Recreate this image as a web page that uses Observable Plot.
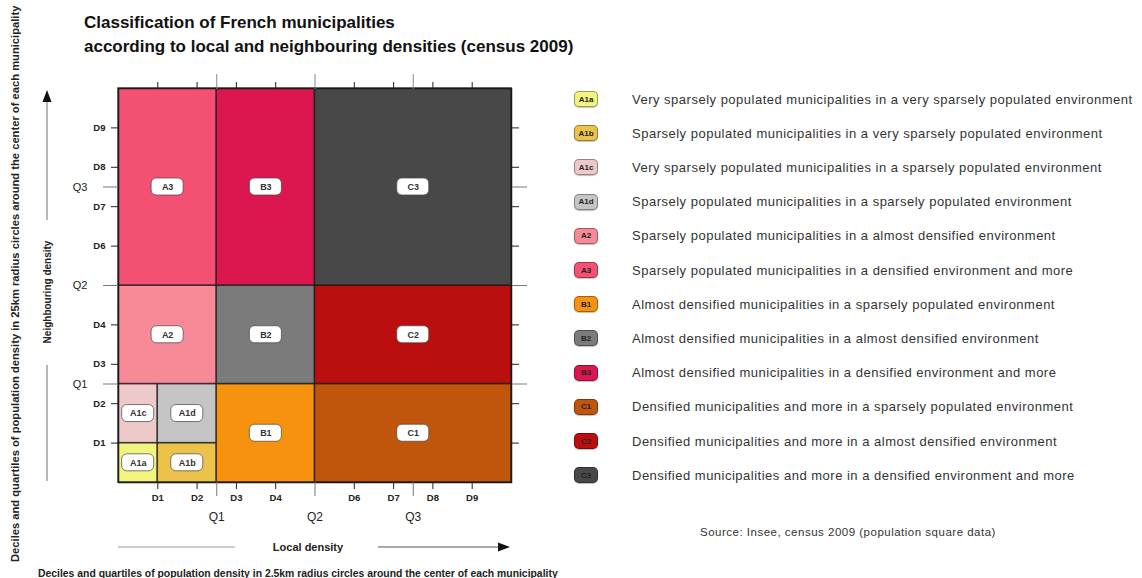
<!DOCTYPE html>
<html>
<head>
<meta charset="utf-8">
<script src="https://cdn.jsdelivr.net/npm/d3@7"></script>
<script src="https://cdn.jsdelivr.net/npm/@observablehq/plot@0.6"></script>
<style>
  html, body { margin: 0; padding: 0; background: #fff; }
  #root { position: relative; width: 1142px; height: 578px; overflow: hidden; font-family: "Liberation Sans", Arial, sans-serif; color: #222; }
  .abs { position: absolute; white-space: nowrap; }
  #title { left: 84px; top: 11px; font-size: 17px; font-weight: bold; line-height: 24px; color: #111; }
  .legrow { position: absolute; left: 574px; height: 18px; display: flex; align-items: center; }
  .sw { width: 24px; height: 16px; border-radius: 5px; box-sizing: border-box; border: 1px solid rgba(0,0,0,0.35); font-size: 8px; font-weight: bold; display: flex; align-items: center; justify-content: center; color: #222; box-shadow: 0 1px 1px rgba(0,0,0,0.25); }
  .desc { margin-left: 34px; font-size: 13px; letter-spacing: 0.5px; color: #333; }
  #source { left: 700px; top: 526px; font-size: 11.5px; letter-spacing: 0.5px; color: #333; }
  #bottomnote { left: 38px; top: 568px; font-size: 10.4px; font-weight: bold; color: #222; }
  #leftnote { left: 15px; top: 562px; font-size: 11.2px; font-weight: bold; color: #222; transform-origin: 0 0; transform: rotate(-90deg) translateY(-50%); }
  #neigh { left: 47px; top: 292px; font-size: 10px; font-weight: bold; color: #222; transform: translate(-50%,-50%) rotate(-90deg); }
  #local { left: 308px; top: 547px; font-size: 11px; font-weight: bold; color: #222; transform: translate(-50%,-50%); }
</style>
</head>
<body>
<div id="root">
  <div id="chart" class="abs" style="left:0;top:0"></div>
  <svg class="abs" style="left:0;top:0" width="1142" height="578">
    <line x1="118" y1="547" x2="235" y2="547" stroke="#999" stroke-width="1.2"/>
    <line x1="378" y1="547" x2="500" y2="547" stroke="#555" stroke-width="1.2"/>
    <path d="M510,547 L498,542.5 L498,551.5 Z" fill="#111"/>
    <line x1="47" y1="102" x2="47" y2="220" stroke="#888" stroke-width="1.2"/>
    <path d="M47,90 L42.5,102 L51.5,102 Z" fill="#111"/>
    <line x1="47" y1="365" x2="47" y2="481" stroke="#888" stroke-width="1.2"/>
  </svg>
  <div id="title" class="abs">Classification of French municipalities<br>according to local and neighbouring densities (census 2009)</div>
  <div id="legend"></div>
  <div id="source" class="abs">Source: Insee, census 2009 (population square data)</div>
  <div id="bottomnote" class="abs">Deciles and quartiles of population density in 2.5km radius circles around the center of each municipality</div>
  <div id="leftnote" class="abs">Deciles and quartiles of population density in 25km radius circles around the center of each municipality</div>
  <div id="neigh" class="abs">Neighbouring density</div>
  <div id="local" class="abs">Local density</div>
</div>
<script>
// ---- data ----
const decileTicks = [1, 2, 3, 4, 6, 7, 8, 9];
const decileLabels = ["D1", "D2", "D3", "D4", "D6", "D7", "D8", "D9"];
const quartileTicks = [2.5, 5, 7.5];
const quartileLabels = ["Q1", "Q2", "Q3"];

const codes = ["A1a", "A1b", "A1c", "A1d", "A2", "A3", "B1", "B2", "B3", "C1", "C2", "C3"];
const colors = ["#f2f47e", "#ecc24a", "#edc9c9", "#c5c5c5", "#f68a96", "#f45072", "#f7920f", "#7b7b7b", "#dc164f", "#c0560c", "#bb0f0f", "#484848"];
const localFrom = [0, 1, 0, 1, 0, 0, 2.5, 2.5, 2.5, 5, 5, 5];
const localTo = [1, 2.5, 1, 2.5, 2.5, 2.5, 5, 5, 5, 10, 10, 10];
const neighFrom = [0, 0, 1, 1, 2.5, 5, 0, 2.5, 5, 0, 2.5, 5];
const neighTo = [1, 1, 2.5, 2.5, 5, 10, 2.5, 5, 10, 2.5, 5, 10];
const descriptions = [
  "Very sparsely populated municipalities in a very sparsely populated environment",
  "Sparsely populated municipalities in a very sparsely populated environment",
  "Very sparsely populated municipalities in a sparsely populated environment",
  "Sparsely populated municipalities in a sparsely populated environment",
  "Sparsely populated municipalities in a almost densified environment",
  "Sparsely populated municipalities in a densified environment and more",
  "Almost densified municipalities in a sparsely populated environment",
  "Almost densified municipalities in a almost densified environment",
  "Almost densified municipalities in a densified environment and more",
  "Densified municipalities and more in a sparsely populated environment",
  "Densified municipalities and more in a almost densified environment",
  "Densified municipalities and more in a densified environment and more"
];

// ---- table built from arrays ----
const cells = codes.map((c, i) => ({
  code: c, color: colors[i],
  x1: localFrom[i], x2: localTo[i], y1: neighFrom[i], y2: neighTo[i],
  cx: (localFrom[i] + localTo[i]) / 2, cy: (neighFrom[i] + neighTo[i]) / 2
}));
const dLab = new Map(decileTicks.map((d, i) => [d, decileLabels[i]]));
const qLab = new Map(quartileTicks.map((d, i) => [d, quartileLabels[i]]));

const chart = Plot.plot({
  width: 600, height: 578,
  marginLeft: 118, marginRight: 89, marginTop: 88, marginBottom: 96,
  x: {domain: [0, 10]},
  y: {domain: [0, 10]},
  style: {fontFamily: "Liberation Sans, Arial, sans-serif", color: "#222", overflow: "visible", background: "transparent"},
  marks: [
    Plot.rect(cells, {x1: "x1", x2: "x2", y1: "y1", y2: "y2", fill: "color", stroke: "#1a1a1a", strokeOpacity: 0.75, strokeWidth: 1.5}),
    Plot.frame({stroke: "#1a1a1a", strokeWidth: 1.5}),
    Plot.rect(cells, {x1: "cx", x2: "cx", y1: "cy", y2: "cy", insetLeft: -16, insetRight: -16, insetTop: -8.5, insetBottom: -8.5, rx: 5, fill: "white", stroke: "#444", strokeWidth: 0.7}),
    Plot.text(cells, {x: "cx", y: "cy", text: "code", fontSize: 9, fontWeight: "bold", fill: "#333"}),
    // bottom axis
    Plot.axisX({anchor: "bottom", ticks: decileTicks, tickFormat: d => dLab.get(d), tickSize: 7, tickPadding: 5, fontSize: 9.5, fontWeight: "bold", label: null, color: "#222"}),
    Plot.axisX({anchor: "bottom", ticks: quartileTicks, tickFormat: d => qLab.get(d), tickSize: 14, tickPadding: 16, fontSize: 12, label: null, stroke: "#777", fill: "#222"}),
    // top axis (ticks only)
    Plot.axisX({anchor: "top", ticks: decileTicks, tickFormat: () => "", tickSize: 7, label: null, color: "#222"}),
    Plot.axisX({anchor: "top", ticks: quartileTicks, tickFormat: () => "", tickSize: 15, label: null, stroke: "#888"}),
    // left axis
    Plot.axisY({anchor: "left", ticks: decileTicks, tickFormat: d => dLab.get(d), tickSize: 7, tickPadding: 6, fontSize: 9.5, fontWeight: "bold", label: null, color: "#222"}),
    Plot.axisY({anchor: "left", ticks: quartileTicks, tickFormat: d => qLab.get(d), tickSize: 15, tickPadding: 16, fontSize: 11, label: null, stroke: "#777", fill: "#222"}),
    // right axis (ticks only)
    Plot.axisY({anchor: "right", ticks: decileTicks, tickFormat: () => "", tickSize: 7, label: null, color: "#222"}),
    Plot.axisY({anchor: "right", ticks: quartileTicks, tickFormat: () => "", tickSize: 15, label: null, stroke: "#777"})
  ]
});
document.getElementById("chart").appendChild(chart);

// ---- legend ----
const legend = document.getElementById("legend");
codes.forEach((c, i) => {
  const row = document.createElement("div");
  row.className = "legrow";
  row.style.top = (90 + i * 34.2) + "px";
  const sw = document.createElement("div");
  sw.className = "sw";
  sw.style.background = colors[i];
  sw.textContent = c;
  const d = document.createElement("div");
  d.className = "desc";
  d.textContent = descriptions[i];
  row.appendChild(sw); row.appendChild(d);
  legend.appendChild(row);
});
</script>
</body>
</html>
